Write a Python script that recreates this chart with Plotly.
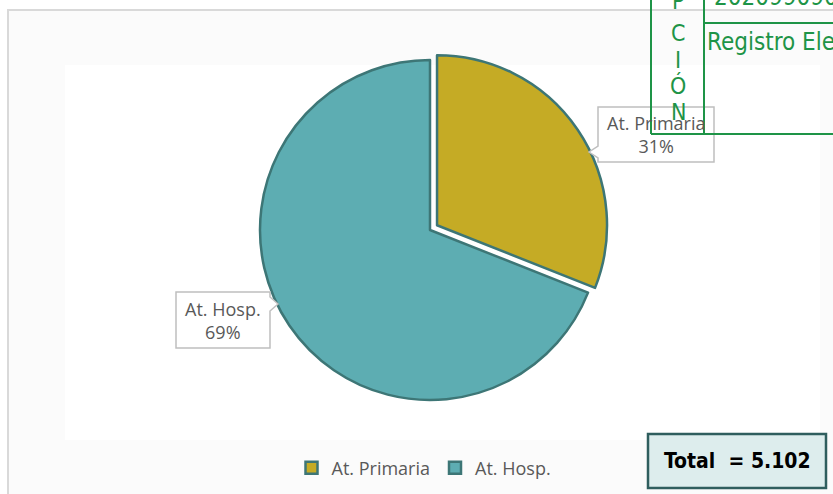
import plotly.graph_objects as go

W, H = 833, 494

labels = ["At. Primaria", "At. Hosp."]
values = [1582, 3520]
colors = ["#C5AB25", "#5DADB2"]
pulls = [0.05, 0]

total = sum(values)


def px(x):
    return x / W


def py(y):
    return 1 - y / H


cx, cy, r = 430, 230, 178.5

fig = go.Figure()
fig.add_trace(
    go.Pie(
        labels=labels,
        values=values,
        sort=False,
        direction="clockwise",
        rotation=0,
        pull=pulls,
        textinfo="none",
        hoverinfo="label+percent",
        marker=dict(colors=colors, line=dict(color="#3D7676", width=2.5)),
        domain=dict(x=[px(cx - r), px(cx + r)], y=[py(cy + r), py(cy - r)]),
    )
)

pct = [round(100 * v / total) for v in values]
grey = "#595959"
label_font = dict(family="Open Sans", size=18, color=grey)
green = "#1E9447"
narrow = "Liberation Sans Narrow, DejaVu Sans Condensed, Liberation Sans, Arial"

shapes = [
    # chart frame
    dict(type="rect", xref="paper", yref="paper", x0=px(8), x1=px(850), y0=py(510), y1=py(10),
         line=dict(color="#D9D9D9", width=2), fillcolor="#FBFBFB", layer="below"),
    dict(type="rect", xref="paper", yref="paper", x0=px(65), x1=px(820), y0=py(440), y1=py(65),
         line=dict(width=0), fillcolor="#FFFFFF", layer="below"),
    # callout boxes
    dict(type="path", xref="paper", yref="paper",
         path=f"M {px(598)} {py(107)} L {px(714)} {py(107)} L {px(714)} {py(162)} L {px(598)} {py(162)} "
              f"L {px(598)} {py(158)} L {px(589)} {py(152)} L {px(598)} {py(146)} Z",
         line=dict(color="#BFBFBF", width=1.5), fillcolor="white"),
    dict(type="path", xref="paper", yref="paper",
         path=f"M {px(176)} {py(292)} L {px(270)} {py(292)} L {px(270)} {py(297)} L {px(278)} {py(304)} "
              f"L {px(270)} {py(311)} L {px(270)} {py(348)} L {px(176)} {py(348)} Z",
         line=dict(color="#BFBFBF", width=1.5), fillcolor="white"),
    # total box
    dict(type="rect", xref="paper", yref="paper", x0=px(648), x1=px(826), y0=py(488), y1=py(434),
         line=dict(color="#2F5E5E", width=2.5), fillcolor="#DDEDED"),
    # green stamp lines
    dict(type="line", xref="paper", yref="paper", x0=px(651), x1=px(651), y0=py(-5), y1=py(134),
         line=dict(color=green, width=2)),
    dict(type="line", xref="paper", yref="paper", x0=px(704), x1=px(704), y0=py(-5), y1=py(134),
         line=dict(color=green, width=2)),
    dict(type="line", xref="paper", yref="paper", x0=px(704), x1=px(840), y0=py(23), y1=py(23),
         line=dict(color=green, width=2)),
    dict(type="line", xref="paper", yref="paper", x0=px(651), x1=px(840), y0=py(134), y1=py(134),
         line=dict(color=green, width=2)),
]

annotations = [
    dict(x=px(656), y=py(134), text=f"{labels[0]}<br>{pct[0]}%", font=label_font),
    dict(x=px(223), y=py(320), text=f"{labels[1]}<br>{pct[1]}%", font=label_font),
    dict(x=px(737), y=py(461), text=f"<b>Total  = {total:,}</b>".replace(",", "."),
         font=dict(family=narrow, size=21, color="black")),
    dict(x=px(705), y=py(42), xanchor="left", text="Registro Electrónico",
         font=dict(family=narrow, size=24, color=green)),
    dict(x=px(712), y=py(-3), xanchor="left", text="20209909090",
         font=dict(family=narrow, size=24, color=green)),
]
for letter, yy in zip("PCIÓN", [1, 33, 60, 85, 112]):
    annotations.append(dict(x=px(678), y=py(yy), text=letter, font=dict(family=narrow, size=23, color=green)))

for a in annotations:
    a.setdefault("xref", "paper")
    a.setdefault("yref", "paper")
    a.setdefault("showarrow", False)
    a.setdefault("xanchor", "center")
    a.setdefault("yanchor", "middle")

fig.update_layout(
    width=W,
    height=H,
    margin=dict(l=0, r=0, t=0, b=0),
    paper_bgcolor="white",
    showlegend=True,
    legend=dict(
        orientation="h",
        x=px(424),
        y=py(468),
        xanchor="center",
        yanchor="middle",
        font=dict(family="Open Sans", size=18, color=grey),
        bgcolor="rgba(0,0,0,0)",
        itemwidth=30,
    ),
    shapes=shapes,
    annotations=annotations,
)

fig.write_html(
    "out.html",
    config={"displayModeBar": False},
    post_script="document.body.style.margin='0';",
)
